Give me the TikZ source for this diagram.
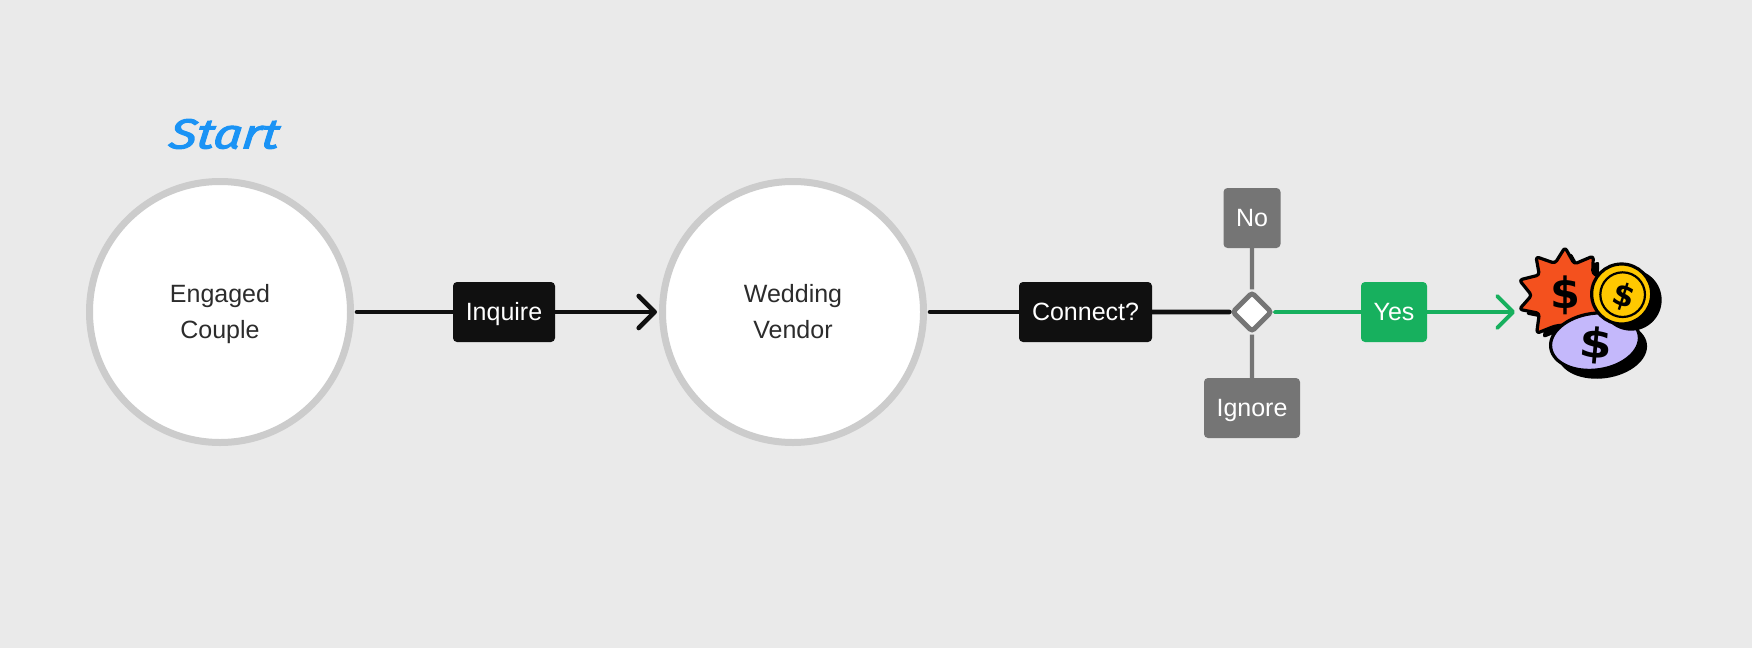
\documentclass[tikz,border=0pt]{standalone}
\usepackage{fontspec}
\setmainfont{Liberation Sans}
\newfontfamily\startfont[FakeBold=2.4]{Fira Sans}
\newfontfamily\dollarfont{DejaVu Sans}
\usetikzlibrary{arrows.meta}
\definecolor{bgc}{HTML}{EAEAEA}
\definecolor{ringc}{HTML}{CCCCCC}
\definecolor{inkc}{HTML}{101010}
\definecolor{greyc}{HTML}{757575}
\definecolor{greenc}{HTML}{17B05E}
\definecolor{txtc}{HTML}{2C2C2C}
\definecolor{bluec}{HTML}{1A93F5}
\definecolor{burstc}{HTML}{F4511E}
\definecolor{lilac}{HTML}{C4B8FB}
\definecolor{coinc}{HTML}{FFC800}
\newcommand\twolines[2]{\rule{0pt}{22.3pt}#1\\\rule[-5.3pt]{0pt}{5.3pt}#2}
\tikzset{
  person/.style={circle,draw=ringc,fill=white,line width=7pt,minimum size=261pt,inner sep=0pt,align=center,text=txtc,font=\fontsize{25}{35.6}\selectfont},
  tag/.style={rounded corners=4pt,minimum height=60pt,inner sep=0pt,text=white,text height=17.4pt,text depth=0pt,font=\fontsize{25}{28}\selectfont},
  blacktag/.style={tag,fill=inkc},
  greytag/.style={tag,fill=greyc},
  greentag/.style={tag,fill=greenc},
  flow/.style={draw=inkc,line width=4.6pt,line cap=round},
  flowarrow/.style={flow,-{Straight Barb[length=16pt,width=32pt,round,line width=4.6pt]}},
  branch/.style={draw=greyc,line width=4.2pt},
  yesline/.style={draw=greenc,line width=3.8pt,line cap=round},
  yesarrow/.style={yesline,-{Straight Barb[length=16pt,width=32pt,round,line width=3.8pt]}},
  gate/.style={shape=rectangle,rotate=45,draw=greyc,fill=white,line width=5pt,minimum size=27pt,inner sep=0pt,rounded corners=3pt},
  art/.style={line width=3.2pt,draw=black,line join=round},
  dollar/.style={text=black,inner sep=0pt}
}
\begin{document}
\begin{tikzpicture}[x=1pt,y=-1pt]
\useasboundingbox (0,0) rectangle (1752,648);
\fill[bgc] (0,0) rectangle (1752,648);
\node[person] (couple) at (220,312) {\twolines{Engaged}{Couple}};
\node[person] (vendor) at (793,312) {\twolines{Wedding}{Vendor}};
\node[blacktag,minimum width=102pt] (inquire) at (504,312) {Inquire};
\node[blacktag,minimum width=133pt] (connect) at (1085.5,312) {Connect?};
\node[gate] (gatenode) at (1252,312) {};
\node[greytag,minimum width=57pt] (no) at (1252,218) {No};
\node[greytag,minimum width=96pt] (ignore) at (1252,408) {Ignore};
\node[greentag,minimum width=66pt] (yes) at (1394,312) {Yes};
\coordinate (prize) at (1515,312);
\node[text=bluec,font=\startfont\itshape\fontsize{42}{42}\selectfont,inner sep=0pt,xscale=1.2,xslant=0.12] (start) at (225,134) {Start};
\draw[flow,shorten <=3pt] (couple) -- (inquire);
\draw[flowarrow,shorten >=2pt] (inquire) -- (vendor);
\draw[flow,shorten <=3pt] (vendor) -- (connect);
\draw[flow] (connect) -- (gatenode);
\draw[branch] (no) -- (gatenode);
\draw[branch] (ignore) -- (gatenode);
\draw[yesline] (gatenode) -- (yes);
\draw[yesarrow] (yes) -- (prize);
\begin{scope}[x=0.33333pt,y=-0.33333pt,shift={(4440,660)}]
 \def\burst{(255,82) -- (283,132) -- (340,108) -- (338,160) -- (400,190) -- (345,240) -- (380,300) -- (225,318) -- (170,340) -- (178,280) -- (118,268) -- (155,226) -- (118,180) -- (178,165) -- (168,110) -- (225,130) -- cycle}
 \fill[black,shift={(18,15)},rounded corners=3pt] \burst;
 \path[art,fill=burstc,rounded corners=3pt] \burst;
 \node[dollar,font=\dollarfont\bfseries\fontsize{43}{43}\selectfont] (d1) at (255,226) {\$};
 \fill[black] (367,390) ellipse [x radius=135,y radius=85,rotate=8];
 \path[art,fill=lilac] (345,365) ellipse [x radius=134,y radius=85,rotate=8];
 \node[dollar,rotate=-5,xscale=1.15,font=\dollarfont\bfseries\fontsize{41}{41}\selectfont] (d2) at (348,376) {\$};
 \fill[black] (453,240) circle [radius=92];
 \path[art,fill=coinc] (425,222) circle [radius=90];
 \draw[line width=2.2pt,black] (428,224) circle [radius=67];
 \node[dollar,rotate=-18,font=\dollarfont\bfseries\fontsize{31}{31}\selectfont] (d3) at (430,229) {\$};
\end{scope}
\end{tikzpicture}
\end{document}
